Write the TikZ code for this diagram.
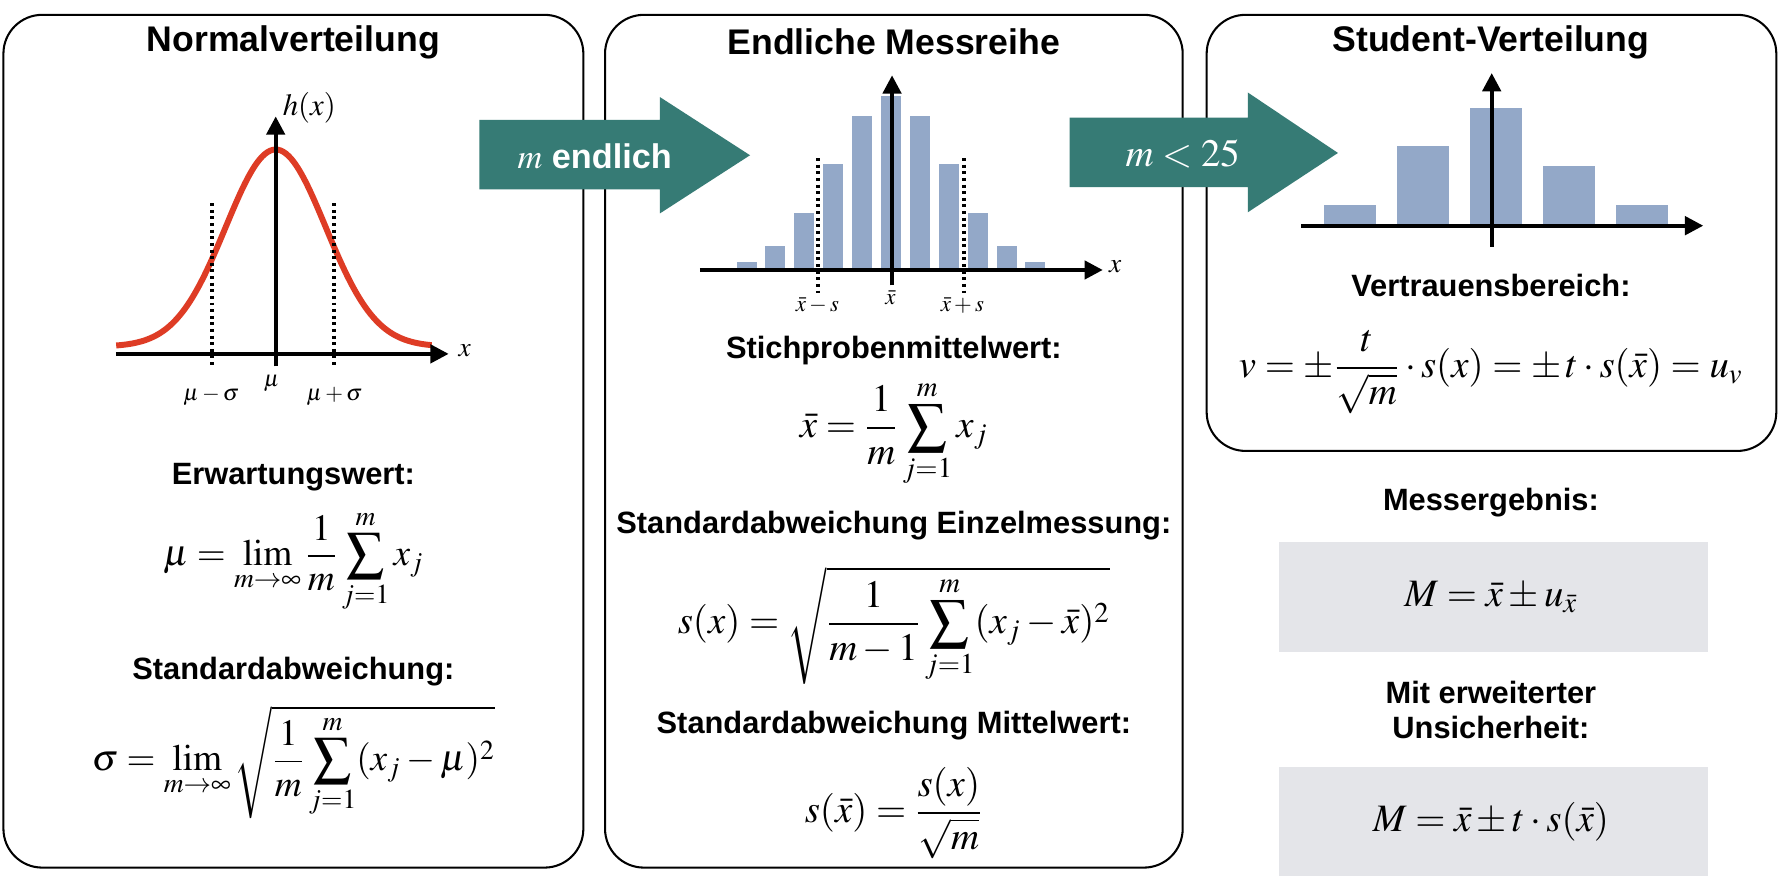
\documentclass[tikz,border=0pt]{standalone}
\usepackage{mathptmx}
\usepackage[no-math]{fontspec}
\setmainfont{Liberation Sans}
\usetikzlibrary{arrows.meta}
\definecolor{tealarrow}{HTML}{367B75}
\definecolor{barblue}{HTML}{93A8C8}
\definecolor{curvered}{HTML}{DE3C25}
\definecolor{graybox}{HTML}{E4E5E9}
\begin{document}
\begin{tikzpicture}[x=0.5pt,y=-0.5pt,
  panel/.style={draw=black,line width=0.9pt,rounded corners=17pt},
  resbox/.style={fill=graybox,draw=none},
  bigarrow/.style={fill=tealarrow,draw=none},
  axisline/.style={line width=1.7pt,-{Triangle[length=8pt,width=8pt]}},
  dotline/.style={line width=1.5pt,dash pattern=on 1.3pt off 1.6pt},
  histbar/.style={fill=barblue,draw=none},
  hd/.style={font=\fontsize{15.6}{18}\selectfont\bfseries},
  lbl/.style={font=\fontsize{13.5}{15.5}\selectfont\bfseries,align=center},
  fm/.style={font=\fontsize{17}{20}\selectfont},
  fms/.style={font=\fontsize{16.3}{19}\selectfont},
  tick/.style={font=\fontsize{10}{12}\selectfont},
  arrowtext/.style={text=white,font=\fontsize{15}{18}\selectfont\bfseries}
]
\useasboundingbox (0,0) rectangle (1568,769);
\fill[white] (0,0) rectangle (1568,769);

% panels
\draw[panel] (3,13) rectangle (511,760);
\draw[panel] (530,13) rectangle (1036,760);
\draw[panel] (1057,13) rectangle (1556,395);
\fill[resbox] (1120,475) rectangle (1496,571);
\fill[resbox] (1120,672) rectangle (1496,767);

% headings
\node[hd] (h1) at (257,37) {Normalverteilung};
\node[hd] (h2) at (783,37) {Endliche Messreihe};
\node[hd] (h3) at (1306,37) {Student-Verteilung};

% ---- left plot: normal distribution
\draw[line width=2.6pt,curvered] plot[domain=-3.19:3.12,samples=120,smooth]
  ({241.5+43.8*\x},{303.7-172.7*exp(-0.5*\x*\x)});
\coordinate (lxa) at (101.6,310);
\coordinate (lxb) at (393,310);
\coordinate (lya) at (241.5,321);
\coordinate (lyb) at (241.5,102);
\draw[axisline] (lxa) -- (lxb);
\draw[axisline] (lya) -- (lyb);
\coordinate (ld1a) at (185.7,178); \coordinate (ld1b) at (185.7,320);
\coordinate (ld2a) at (292.6,178); \coordinate (ld2b) at (292.6,320);
\draw[dotline] (ld1a) -- (ld1b);
\draw[dotline] (ld2a) -- (ld2b);
\node[font=\fontsize{13.5}{15}\selectfont] (hx) at (271,94) {$h(x)$};
\node[font=\fontsize{12}{14}\selectfont] (lx) at (407,307) {$x$};
\node[tick] (t1) at (185,347) {$\mu-\sigma$};
\node[tick] (t2) at (238,336) {$\mu$};
\node[tick] (t3) at (293,347) {$\mu+\sigma$};

% ---- middle histogram
\foreach \k/\h in {-5/7,-4/21,-3/49.6,-2/92.9,-1/134.9,0/152.4,1/134.9,2/92.9,3/49.6,4/21,5/7}{
  \fill[histbar] ({780.5+25.3*\k-8.75},236.5) rectangle ({780.5+25.3*\k+8.75},{236.5-\h});
}
\coordinate (mxa) at (613,236.5);
\coordinate (mxb) at (966,236.5);
\coordinate (mya) at (781.4,250);
\coordinate (myb) at (781.4,66);
\draw[axisline] (mxa) -- (mxb);
\draw[axisline] (mya) -- (myb);
\coordinate (md1a) at (716.5,138.5); \coordinate (md1b) at (716.5,259);
\coordinate (md2a) at (844.4,138.5); \coordinate (md2b) at (844.4,259);
\draw[dotline] (md1a) -- (md1b);
\draw[dotline] (md2a) -- (md2b);
\node[font=\fontsize{12}{14}\selectfont] (mx) at (977,234) {$x$};
\node[tick] (u1) at (716,268) {$\bar{x}-s$};
\node[tick] (u2) at (780,261) {$\bar{x}$};
\node[tick] (u3) at (843,268) {$\bar{x}+s$};

% ---- right histogram
\foreach \c/\h in {1182.5/18,1246.5/70,1310.5/103,1374.5/52,1438.5/18}{
  \fill[histbar] ({\c-22.75},197.7) rectangle ({\c+22.75},{197.7-\h});
}
\coordinate (rxa) at (1140,197.7);
\coordinate (rxb) at (1492,197.7);
\coordinate (rya) at (1306.7,216);
\coordinate (ryb) at (1306.7,64);
\draw[axisline] (rxa) -- (rxb);
\draw[axisline] (rya) -- (ryb);

% ---- big arrows
\fill[bigarrow] (420,105) -- (578,105) -- (578,85) -- (657,136) -- (578,187) -- (578,166) -- (420,166) -- cycle;
\fill[bigarrow] (937,103) -- (1093,103) -- (1093,81) -- (1172,134) -- (1093,186) -- (1093,164) -- (937,164) -- cycle;
\node[arrowtext] (a1) at (521,137) {$m$ endlich};
\node[arrowtext,font=\fontsize{17}{20}\selectfont] (a2) at (1036,135) {$m<25$};

% ---- left texts
\node[lbl] (e1) at (257,418) {Erwartungswert:};
\node[fms] (f1) at (257,492) {$\displaystyle \mu=\lim_{m\to\infty}\frac{1}{m}\sum_{j=1}^{m}x_j$};
\node[lbl] (e2) at (257,588) {Standardabweichung:};
\node[fms] (f2) at (257,668) {$\displaystyle \sigma=\lim_{m\to\infty}\sqrt{\frac{1}{m}\sum_{j=1}^{m}(x_j-\mu)^2}$};

% ---- middle texts
\node[lbl] (e3) at (783,307) {Stichprobenmittelwert:};
\node[fm] (f3) at (783,380) {$\displaystyle \bar{x}=\frac{1}{m}\sum_{j=1}^{m}x_j$};
\node[lbl] (e4) at (783,460) {Standardabweichung Einzelmessung:};
\node[fm] (f4) at (783,548) {$\displaystyle s(x)=\sqrt{\frac{1}{m-1}\sum_{j=1}^{m}(x_j-\bar{x})^2}$};
\node[lbl] (e5) at (783,636) {Standardabweichung Mittelwert:};
\node[fm] (f5) at (783,712) {$\displaystyle s(\bar{x})=\frac{s(x)}{\sqrt{m}}$};

% ---- right texts
\node[lbl] (e6) at (1306,250) {Vertrauensbereich:};
\node[fm] (f6) at (1306,326) {$\displaystyle v=\pm\frac{t}{\sqrt{m}}\cdot s(x)=\pm\,t\cdot s(\bar{x})=u_v$};
\node[lbl] (e7) at (1306,440) {Messergebnis:};
\node[fm] (f7) at (1306,523) {$M=\bar{x}\pm u_{\bar{x}}$};
\node[lbl] (e8) at (1306,622) {Mit erweiterter\\Unsicherheit:};
\node[fm] (f8) at (1306,720) {$M=\bar{x}\pm t\cdot s(\bar{x})$};
\end{tikzpicture}
\end{document}
